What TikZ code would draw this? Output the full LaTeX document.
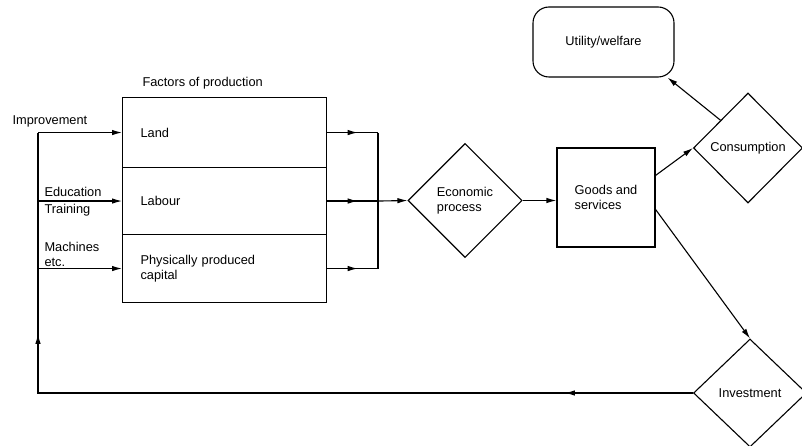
\documentclass[tikz,border=0pt]{standalone}
\usepackage{fontspec}
\setmainfont{Liberation Sans}
\usetikzlibrary{shapes.geometric,arrows.meta,decorations.markings,calc}
\begin{document}
\begin{tikzpicture}[x=1pt,y=1pt, line width=1.1pt,
  font=\fontsize{12.8}{15.5}\selectfont,
  tip/.style={-{Latex[length=10pt,width=5.5pt]}},
  midtip/.style={postaction={decorate},decoration={markings, mark=at position #1 with {\arrow{Latex[length=10pt,width=5.5pt]}}}},
  twotips/.style={postaction={decorate},decoration={markings,
     mark=at position 0.14 with {\arrow{Latex[length=10pt,width=5.5pt]}},
     mark=at position 0.78 with {\arrow{Latex[length=10pt,width=5.5pt]}}}},
  factor/.style={draw, minimum width=204pt, text width=168pt, inner xsep=18pt, align=left, anchor=north west},
  dia/.style={draw, diamond, inner sep=0pt, align=left},
  txt/.style={inner sep=0pt, align=left, anchor=west}]
\useasboundingbox (0,0) rectangle (802,-446);

% factors of production
\node[txt] (title) at (142,-83) {Factors of production};
\node[factor, minimum height=70pt] (land) at (122,-97) {Land};
\node[factor, minimum height=67pt] (labour) at (122,-167) {Labour};
\node[factor, minimum height=68pt] (capital) at (122,-234) {Physically produced\\capital};

% left labels
\node[txt] (impr) at (12,-121) {Improvement};
\node[txt, font=\fontsize{12.8}{17}\selectfont] (edu) at (44,-201.5) {Education\\Training};
\node[txt] (mach) at (44,-254.5) {Machines\\etc.};

% other nodes
\node[dia, minimum width=114pt, minimum height=114pt] (econ) at (465,-200.5) {Economic\\process};
\node[draw, minimum width=98pt, minimum height=99pt, align=left] (goods) at (606,-197.5) {Goods and\\services};
\node[dia, minimum width=109pt, minimum height=110pt] (cons) at (748,-148) {Consumption};
\node[draw, rounded corners=16pt, minimum width=141pt, minimum height=70pt] (util) at (603.5,-42) {Utility/welfare};
\node[dia, minimum width=113pt, minimum height=108pt] (inv) at (750,-393) {Investment};

\coordinate (fbbot) at (38,-393);
\coordinate (bus) at (378,0);

% inputs into factors
\draw[tip] (land.west -| fbbot) -- (land.west);
\draw[tip] (labour.west -| fbbot) -- (labour.west);
\draw[tip] (capital.west -| fbbot) -- (capital.west);

% outputs of factors
\draw[midtip=0.6] (land.east) -- (land.east -| bus);
\draw[midtip=0.6] (labour.east) -- (labour.east -| bus);
\draw[midtip=0.6] (capital.east) -- (capital.east -| bus);
\draw (land.east -| bus) -- (capital.east -| bus);
\draw[tip] (labour.east -| bus) -- (econ.west);

% flow
\draw[tip] (econ.east) -- (econ.east -| goods.west);
\draw[tip] ($(goods.north east)+(0,-28)$) -- (cons.west);
\draw[tip] ($(cons.west)!0.5!(cons.north)$) -- ($(util.south east)+(-7,0)$);
\draw[tip] ($(goods.north east)+(0,-62)$) -- (inv.north);

% feedback
\draw[twotips] (inv.west) -- (fbbot) -- (land.west -| fbbot);
\end{tikzpicture}
\end{document}
